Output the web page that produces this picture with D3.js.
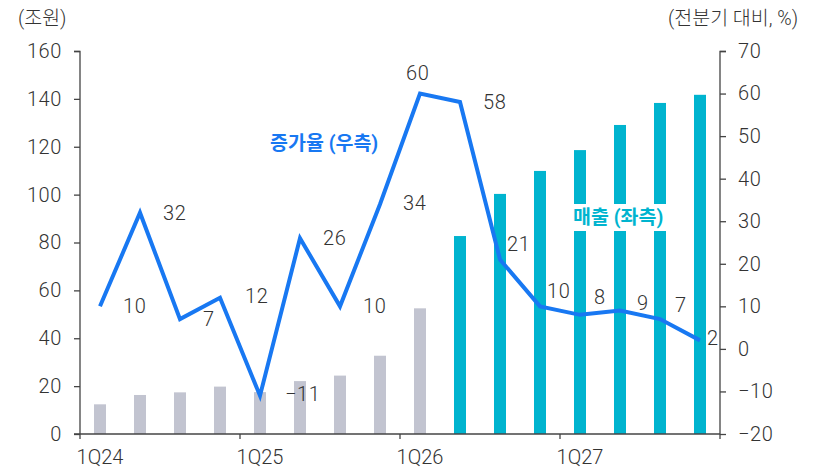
<!DOCTYPE html>
<html><head><meta charset="utf-8">
<script src="https://cdn.jsdelivr.net/npm/d3@7"></script>
<style>
body{margin:0;background:#fff;}
svg text{font-family:Roboto,"Noto Sans CJK KR",sans-serif;}
</style></head>
<body><svg id="c" width="817" height="469"></svg>
<script>
const quarters = ["1Q24","2Q24","3Q24","4Q24","1Q25","2Q25","3Q25","4Q25","1Q26","2Q26","3Q26","4Q26","1Q27","2Q27","3Q27","4Q27"];
const sales = [12.4,16.3,17.4,19.8,17.5,22.1,24.4,32.7,52.5,82.7,100.3,109.9,118.6,129.1,138.3,141.7];
const growth = [10,32,7,12,-11,26,10,34,60,58,21,10,8,9,7,2];
const forecast = [false,false,false,false,false,false,false,false,false,true,true,true,true,true,true,true];
const xTickLabels = ["1Q24","1Q25","1Q26","1Q27"];
const leftTicks = [0,20,40,60,80,100,120,140,160];
const rightTicks = [-20,-10,0,10,20,30,40,50,60,70];
// label offsets (dx, dy) relative to each point
const labelDx = [23,23,23,25,25,23,23,23,-14,23,7,7,14,17,15,7];
const labelDy = [0,0,0,-2,-2,0,0,-1,-21,0,-16,-15,-18,-8,-14,-2];

const svg = d3.select("#c");
const x = d3.scaleBand().domain(quarters).range([80,720]).paddingInner(0.7).paddingOuter(0.35);
const yL = d3.scaleLinear().domain([0,160]).range([434,51]);
const yR = d3.scaleLinear().domain([-20,70]).range([434,51]);
const cx = d => x(d) + x.bandwidth()/2;
const NUM = 20, LS = 0.6;

// bars
svg.append("g").selectAll("rect").data(quarters).join("rect")
  .attr("x", d => cx(d) - 6)
  .attr("width", 12)
  .attr("y", (d,i) => yL(sales[i]))
  .attr("height", (d,i) => yL(0) - yL(sales[i]))
  .attr("fill", (d,i) => forecast[i] ? "#00b4cf" : "#c2c4d0");

// axes
const axisColor = "#444";
const gx = svg.append("g").attr("transform","translate(0,434)");
gx.append("line").attr("x1",74).attr("x2",720).attr("y1",0).attr("y2",0).attr("stroke",axisColor).attr("stroke-width",1.3);
const yearStarts = xTickLabels.map(q => x(q) - x.step()*x.paddingInner()/2);
yearStarts.concat([720]).forEach(v => gx.append("line").attr("x1",v).attr("x2",v).attr("y1",0).attr("y2",5).attr("stroke",axisColor).attr("stroke-width",1.3));
gx.selectAll("text.xl").data(xTickLabels).join("text")
  .attr("x", d => cx(d)).attr("y", 30).attr("text-anchor","middle")
  .attr("font-size",NUM).attr("font-weight",300).attr("fill","#333").text(d => d);

const gl = svg.append("g").attr("transform","translate(80,0)")
  .call(d3.axisLeft(yL).tickValues(leftTicks).tickSize(6).tickPadding(12).tickFormat(d3.format("d")));
gl.select(".domain").attr("stroke",axisColor).attr("stroke-width",1.3).attr("d","M-6,51.5H0V434");
gl.selectAll(".tick line").attr("stroke",axisColor).attr("stroke-width",1.3);
gl.selectAll(".tick text").attr("font-size",NUM).attr("font-weight",300).attr("fill","#333").attr("font-family","Roboto").attr("letter-spacing",LS);

const fmtR = d => d < 0 ? "\u2212" + Math.abs(d) : String(d);
const gr = svg.append("g").attr("transform","translate(720,0)")
  .call(d3.axisRight(yR).tickValues(rightTicks).tickSize(6).tickPadding(12).tickFormat(fmtR));
gr.select(".domain").attr("stroke",axisColor).attr("stroke-width",1.3).attr("d","M6,51.5H0V434");
gr.selectAll(".tick line").attr("stroke",axisColor).attr("stroke-width",1.3);
gr.selectAll(".tick text").attr("font-size",NUM).attr("font-weight",300).attr("fill","#333").attr("font-family","Roboto").attr("letter-spacing",LS);

// unit titles
svg.append("text").attr("x",18).attr("y",25).attr("font-size",19.5).attr("font-weight",300).attr("fill","#333")
  .attr("font-family","'Noto Sans CJK KR'").text("(조원)");
svg.append("text").attr("x",798).attr("y",25).attr("text-anchor","end").attr("font-size",19.5).attr("font-weight",300).attr("fill","#333")
  .attr("font-family","'Noto Sans CJK KR'").text("(전분기 대비, %)");

// line
const line = d3.line().x((d,i) => cx(quarters[i])).y(d => yR(d));
svg.append("path").datum(growth).attr("d", line).attr("fill","none")
  .attr("stroke","#1878f2").attr("stroke-width",4).attr("stroke-linejoin","miter");

// value labels
svg.append("g").selectAll("text").data(growth).join("text")
  .attr("x", (d,i) => cx(quarters[i]) + labelDx[i])
  .attr("y", (d,i) => yR(d) + labelDy[i])
  .attr("dy","0.35em")
  .attr("font-size",NUM).attr("font-weight",300).attr("fill","#333").attr("letter-spacing",LS)
  .text(d => fmtR(d));

// series annotations
const ann2 = svg.append("g");
ann2.append("rect").attr("x",569).attr("y",204).attr("width",104).attr("height",27).attr("fill","#fff");
ann2.append("text").attr("x",573).attr("y",217).attr("dy","0.35em").attr("font-size",19.5).attr("font-weight",700)
  .attr("fill","#00b4cf").attr("font-family","'Noto Sans CJK KR'").text("매출 (좌측)");
svg.append("text").attr("x",270).attr("y",143).attr("dy","0.35em").attr("font-size",19.5).attr("font-weight",700)
  .attr("fill","#1878f2").attr("font-family","'Noto Sans CJK KR'").text("증가율 (우측)");
</script></body></html>
